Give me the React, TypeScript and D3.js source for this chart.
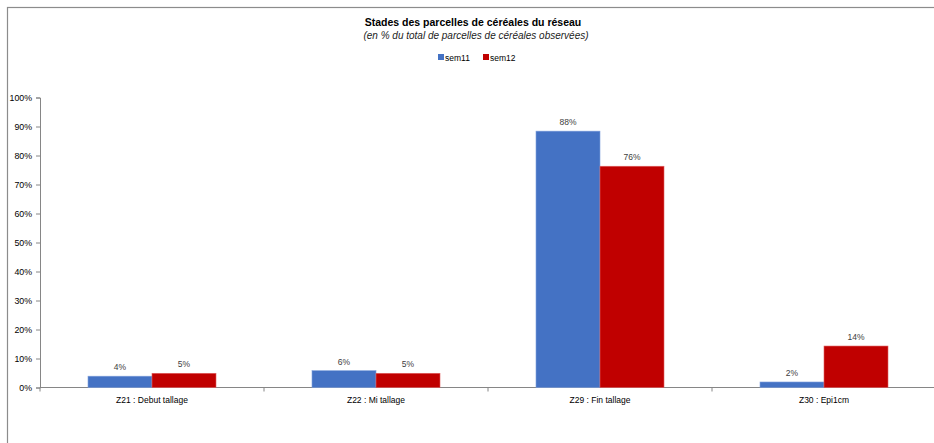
import React, { useEffect, useRef } from "react";
import * as d3 from "d3";

const categories = ["Z21 : Debut tallage", "Z22 : Mi tallage", "Z29 : Fin tallage", "Z30 : Epi1cm"];
const seriesNames = ["sem11", "sem12"];
const sem11 = [3.9, 5.8, 88.4, 1.9];
const sem12 = [4.9, 4.9, 76.3, 14.3];
const sem11Labels = ["4%", "6%", "88%", "2%"];
const sem12Labels = ["5%", "5%", "76%", "14%"];
const yTicks = [0, 10, 20, 30, 40, 50, 60, 70, 80, 90, 100];
const colors = ["#4472C4", "#C00000"];
const title = "Stades des parcelles de céréales du réseau";
const subtitle = "(en % du total de parcelles de céréales observées)";

const W = 934;
const H = 443;

export default function App() {
  const ref = useRef<SVGSVGElement | null>(null);

  useEffect(() => {
    const svg = d3.select(ref.current);
    svg.selectAll("*").remove();
    const font = "'Liberation Sans', Arial, sans-serif";

    // outer border (clipped on right/bottom)
    svg.append("rect")
      .attr("x", 7.5).attr("y", 7.5)
      .attr("width", 1000).attr("height", 1000)
      .attr("fill", "#fff").attr("stroke", "#8c8c8c").attr("stroke-width", 1.2);

    const left = 40, top = 97.5, bottom = 387.5, right = 936;
    const x0 = d3.scaleBand<string>().domain(categories).range([left, right]).paddingInner(0).paddingOuter(0);
    const x1 = d3.scaleBand<string>().domain(seriesNames).range([0, x0.bandwidth()]).paddingInner(0).paddingOuter(0.75);
    const y = d3.scaleLinear().domain([0, 100]).range([bottom, top]);

    // title
    svg.append("text").attr("x", 473).attr("y", 26).attr("text-anchor", "middle")
      .attr("font-family", font).attr("font-weight", "bold").attr("font-size", 10.5)
      .attr("fill", "#000").text(title);
    svg.append("text").attr("x", 476).attr("y", 38.5).attr("text-anchor", "middle")
      .attr("font-family", font).attr("font-style", "italic").attr("font-size", 10)
      .attr("fill", "#222").text(subtitle);

    // legend
    const lg = svg.append("g").attr("font-family", font).attr("font-size", 8.5).attr("fill", "#000");
    const legendX = [438, 483];
    seriesNames.forEach((s, i) => {
      lg.append("rect").attr("x", legendX[i]).attr("y", 54).attr("width", 6).attr("height", 6).attr("fill", colors[i]);
      lg.append("text").attr("x", legendX[i] + 7).attr("y", 60.5).text(s);
    });

    // y axis
    const yAxis = d3.axisLeft(y).tickValues(yTicks).tickSize(4).tickFormat((d) => `${d}%`);
    const ya = svg.append("g").attr("transform", `translate(${left},0)`).call(yAxis);
    ya.select(".domain").attr("stroke", "#868686");
    ya.selectAll(".tick line").attr("stroke", "#868686");
    ya.selectAll(".tick text").attr("font-family", font).attr("font-size", 8.8).attr("fill", "#000").attr("x", -8);

    // x axis
    const xa = svg.append("g").attr("transform", `translate(0,${bottom})`);
    xa.append("line").attr("x1", left).attr("x2", right).attr("y1", 0).attr("y2", 0).attr("stroke", "#868686");
    const bounds = categories.map((c) => x0(c) as number).concat([right]);
    bounds.forEach((b) => {
      xa.append("line").attr("x1", b).attr("x2", b).attr("y1", 0).attr("y2", 4).attr("stroke", "#868686");
    });
    categories.forEach((c) => {
      xa.append("text").attr("x", (x0(c) as number) + x0.bandwidth() / 2).attr("y", 15)
        .attr("text-anchor", "middle").attr("font-family", font).attr("font-size", 8.5).attr("fill", "#000").text(c);
    });

    // bars
    const data = [sem11, sem12];
    const labels = [sem11Labels, sem12Labels];
    seriesNames.forEach((s, si) => {
      categories.forEach((c, ci) => {
        const bx = (x0(c) as number) + (x1(s) as number);
        const v = data[si][ci];
        svg.append("rect").attr("x", bx).attr("y", y(v)).attr("width", x1.bandwidth())
          .attr("height", bottom - y(v)).attr("fill", colors[si])
          .attr("stroke", si === 0 ? "#7fa0dc" : "#e06060").attr("stroke-width", 0.6);
        svg.append("text").attr("x", bx + x1.bandwidth() / 2).attr("y", y(v) - 6)
          .attr("text-anchor", "middle").attr("font-family", font).attr("font-size", 8.5)
          .attr("fill", "#404040").text(labels[si][ci]);
      });
    });
  }, []);

  return (
    <div style={{ position: "absolute", left: 0, top: 0 }}>
      <svg ref={ref} width={W} height={H} style={{ display: "block", background: "#fff" }} />
    </div>
  );
}
